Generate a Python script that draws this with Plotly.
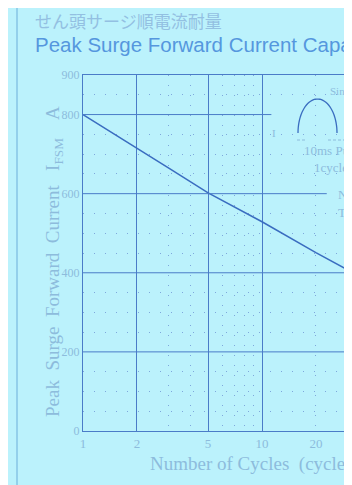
"""Peak surge forward current capability (cropped datasheet view)."""
import numpy as np
import plotly.graph_objects as go

# data
cycles = [1, 2, 3, 5, 10, 20, 30]
ifsm = [800, 716, 665, 602, 529, 451, 408]

x_ticks = [1, 2, 5, 10, 20]
x_major = [2, 5, 10]
x_minor = [3, 4, 6, 7, 8, 9, 20, 30]
y_ticks = [0, 200, 400, 600, 800, 900]
y_major = [200, 400, 600, 800]
y_major_end = [1.0, 1.0, 0.88, 0.68]   # paper x where each major line stops
y_minor = [50, 100, 150, 250, 300, 350, 450, 500, 550, 650, 700, 750, 850]

BG = "#bbf2fc"
LINE = "#4a7cc8"
DOT = "#7ea8dc"
FAINT = "#8dbcdc"
SERIF = "Liberation Serif, Times New Roman, serif"

OFF = 8          # page body margin
# plot area in window pixels
L, T, B, R = 83, 75, 431, 360
W, H = R - L, B - T


def px(x):
    return (x - L) / W


def py(y):
    return (B - y) / H


fig = go.Figure()
fig.add_trace(
    go.Scatter(
        x=cycles, y=ifsm, mode="lines",
        line=dict(color="#3a6dc0", width=1.5),
        showlegend=False, hoverinfo="skip",
    )
)
# invisible copy on the overlay axis that carries the solid vertical grid
fig.add_trace(
    go.Scatter(
        x=cycles, y=ifsm, mode="lines", xaxis="x2", opacity=0,
        showlegend=False, hoverinfo="skip",
    )
)

for yv, xe in zip(y_major, y_major_end):
    fig.add_shape(type="line", xref="paper", yref="y", x0=0, x1=xe, y0=yv, y1=yv,
                  line=dict(color=LINE, width=1))

# half-sine sketch of the surge waveform
t = np.linspace(0, np.pi, 40)
sx = px(317.5 - 19.5 * np.cos(t))
sy = py(133 - 34 * np.sin(t))
path = "M " + " L ".join(f"{a:.4f},{b:.4f}" for a, b in zip(sx, sy))
fig.add_shape(type="path", xref="paper", yref="paper", path=path,
              line=dict(color="#3a6dc0", width=1.3))
for x0, x1 in [(297, 306), (328, 346)]:
    fig.add_shape(type="line", xref="paper", yref="paper", x0=px(x0), x1=px(x1),
                  y0=py(140), y1=py(140), line=dict(color=FAINT, width=1, dash="3px,2px"))

# page frame lines
fig.add_shape(type="line", xref="paper", yref="paper", x0=px(17), x1=px(17),
              y0=py(500), y1=py(-10), line=dict(color="#86c4e6", width=1.5))
fig.add_shape(type="line", xref="paper", yref="paper", x0=px(-10), x1=px(360),
              y0=py(2), y1=py(2), line=dict(color="#86c4e6", width=1.5))

notes = [
    (33, 21, "せん頭サージ順電流耐量", 17, "#93c0e2", "Noto Sans CJK JP"),
    (33, 45, "Peak Surge Forward Current Capability", 20.5, "#5597de", "Liberation Sans, Arial"),
    (148, 464, "Number of Cycles  (cycles)", 19, FAINT, SERIF),
    (328, 91, "Sine wave", 11, FAINT, SERIF),
    (270, 133, "I", 11, FAINT, SERIF),
    (302, 150, "10ms Pulse", 13, FAINT, SERIF),
    (312, 167, "1cycle", 13, FAINT, SERIF),
    (336, 194, "Non-repetitive", 13, FAINT, SERIF),
    (336, 212, "Tj=25°C", 13, FAINT, SERIF),
]
for x, y, text, size, color, family in notes:
    fig.add_annotation(x=px(x), y=py(y), xref="paper", yref="paper", text=text,
                       showarrow=False, xanchor="left", yanchor="middle",
                       font=dict(size=size, color=color, family=family))

fig.add_annotation(
    x=px(40), y=py(262), xref="paper", yref="paper", textangle=-90,
    text="Peak  Surge  Forward  Current   I<sub>FSM</sub>    A", showarrow=False,
    font=dict(size=19, color=FAINT, family=SERIF),
)

xrange = [0, W / 179]
fig.update_layout(
    width=352,
    height=485,
    margin=dict(l=L - OFF, r=352 - (R - OFF), t=T - OFF, b=485 - (B - OFF)),
    paper_bgcolor=BG,
    plot_bgcolor=BG,
    showlegend=False,
    xaxis=dict(
        type="log",
        range=xrange,
        tickvals=x_ticks,
        ticktext=[str(v) for v in x_ticks],
        showgrid=False,
        showline=True,
        linecolor=LINE,
        linewidth=1,
        mirror=True,
        ticks="",
        tickfont=dict(size=13, color=FAINT, family=SERIF),
        minor=dict(tickvals=x_minor, showgrid=True, gridcolor=DOT, griddash="1px,9px", ticks=""),
        zeroline=False,
    ),
    xaxis2=dict(
        type="log",
        range=xrange,
        overlaying="x",
        matches="x",
        tickvals=x_major,
        showticklabels=False,
        showgrid=True,
        gridcolor=LINE,
        gridwidth=1,
        ticks="",
        zeroline=False,
    ),
    yaxis=dict(
        range=[0, 900],
        tickvals=y_ticks,
        ticktext=[str(v) for v in y_ticks],
        showgrid=False,
        showline=True,
        linecolor=LINE,
        linewidth=1,
        ticks="",
        tickfont=dict(size=12, color=FAINT, family=SERIF),
        minor=dict(tickvals=y_minor, showgrid=True, gridcolor=DOT, griddash="1px,10px", ticks=""),
        zeroline=False,
    ),
)

fig.write_html("out.html")
